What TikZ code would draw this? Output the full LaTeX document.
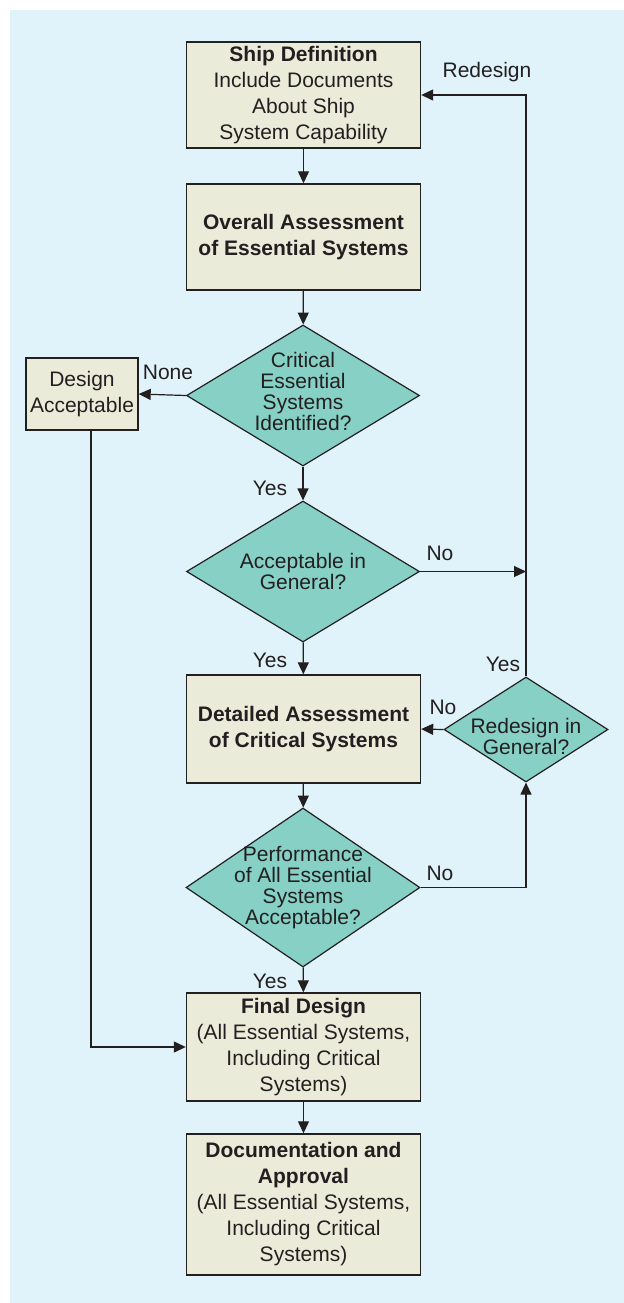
\documentclass[tikz,border=0pt]{standalone}
\usepackage{fontspec}
\setmainfont{Liberation Sans}
\usetikzlibrary{shapes.geometric,arrows.meta}

\definecolor{bgblue}{HTML}{E0F3FA}
\definecolor{boxfill}{HTML}{EBEBDA}
\definecolor{decfill}{HTML}{86D0C6}
\definecolor{inkgray}{HTML}{231F20}

% zero-width line so the diamond keeps its own size
\newcommand{\dline}[1]{\makebox[0pt]{#1}}

\begin{document}
\begin{tikzpicture}[x=0.5pt,y=-0.5pt,
    font=\fontsize{10.5}{13}\selectfont, text=inkgray,
    procbox/.style={rectangle, draw=inkgray, line width=0.7pt, fill=boxfill,
        minimum width=117pt, inner sep=0pt, align=center},
    decision/.style={diamond, draw=inkgray, line width=0.6pt, fill=decfill,
        inner sep=0pt, align=center, font=\fontsize{10.5}{10.4}\selectfont},
    flow/.style={draw=inkgray, line width=0.6pt, -{Triangle[length=6pt,width=5.5pt]}},
    answer/.style={inner sep=0pt}]

    \fill[bgblue] (10,10) rectangle (624,1303);
    \useasboundingbox (0,0) rectangle (624,1303);

    % main column
    \node[procbox, minimum height=53pt] (ship) at (303.5,95)
        {\textbf{Ship Definition}\\Include Documents\\About Ship\\System Capability};
    \node[procbox, minimum height=53pt] (overall) at (303.5,237)
        {\textbf{Overall Assessment}\\\textbf{of Essential Systems}};
    \node[decision, minimum width=116.5pt, minimum height=70.5pt] (critical) at (303,395.5)
        {\dline{Critical}\\\dline{Essential}\\\dline{Systems}\\\dline{Identified?}\rule[-4pt]{0pt}{0pt}};
    \node[decision, minimum width=116.5pt, minimum height=70.5pt] (general) at (303,571.5)
        {\dline{Acceptable in}\\\dline{General?}};
    \node[procbox, minimum height=54pt] (detailed) at (303.5,729)
        {\textbf{Detailed Assessment}\\\textbf{of Critical Systems}};
    \node[decision, minimum width=117pt, minimum height=79.5pt] (perform) at (303,887.5)
        {\dline{Performance}\\\dline{of All Essential}\\\dline{Systems}\\\dline{Acceptable?}};
    \node[procbox, minimum height=54pt] (final) at (303.5,1047)
        {\textbf{Final Design}\\(All Essential Systems,\\Including Critical\\Systems)};
    \node[procbox, minimum height=70.5pt] (docs) at (303.5,1204.5)
        {\textbf{Documentation and}\\\textbf{Approval}\\(All Essential Systems,\\Including Critical\\Systems)};

    % side nodes
    \node[procbox, minimum width=56pt, minimum height=36pt] (designok) at (82,394)
        {Design\\Acceptable};
    \node[decision, minimum width=82pt, minimum height=52.5pt,
        font=\fontsize{10.5}{9.5}\selectfont] (redesign) at (526,729.5)
        {\rule{0pt}{14.5pt}\dline{Redesign in}\\\dline{General?}};

    \coordinate (nojoin) at (redesign.north |- general.east);

    % connectors
    \draw[flow] (ship) -- (overall);
    \draw[flow] (overall) -- (critical);
    \draw[flow] (critical.west) -- (designok.east);
    \draw[flow] (critical) -- (general);
    \draw[flow] (general.east) -- (nojoin);
    \draw[flow] (redesign.north) |- (ship.east);
    \draw[flow] (general) -- (detailed);
    \draw[flow] (redesign.west) -- (detailed.east);
    \draw[flow] (detailed) -- (perform);
    \draw[flow] (perform.east) -| (redesign.south);
    \draw[flow] (perform) -- (final);
    \draw[flow] ([xshift=4.5pt]designok.south) |- (final.west);
    \draw[flow] (final) -- (docs);

    % answers
    \node[answer] (tredesign) at (487,72) {Redesign};
    \node[answer] (tnone) at (168,372) {None};
    \node[answer] (tyesa) at (270,488) {Yes};
    \node[answer] (tnoa) at (440,553) {No};
    \node[answer] (tyesb) at (270,660) {Yes};
    \node[answer] (tnob) at (443,707) {No};
    \node[answer] (tyesc) at (503,664) {Yes};
    \node[answer] (tnoc) at (440,873) {No};
    \node[answer] (tyesd) at (270,981) {Yes};
\end{tikzpicture}
\end{document}
